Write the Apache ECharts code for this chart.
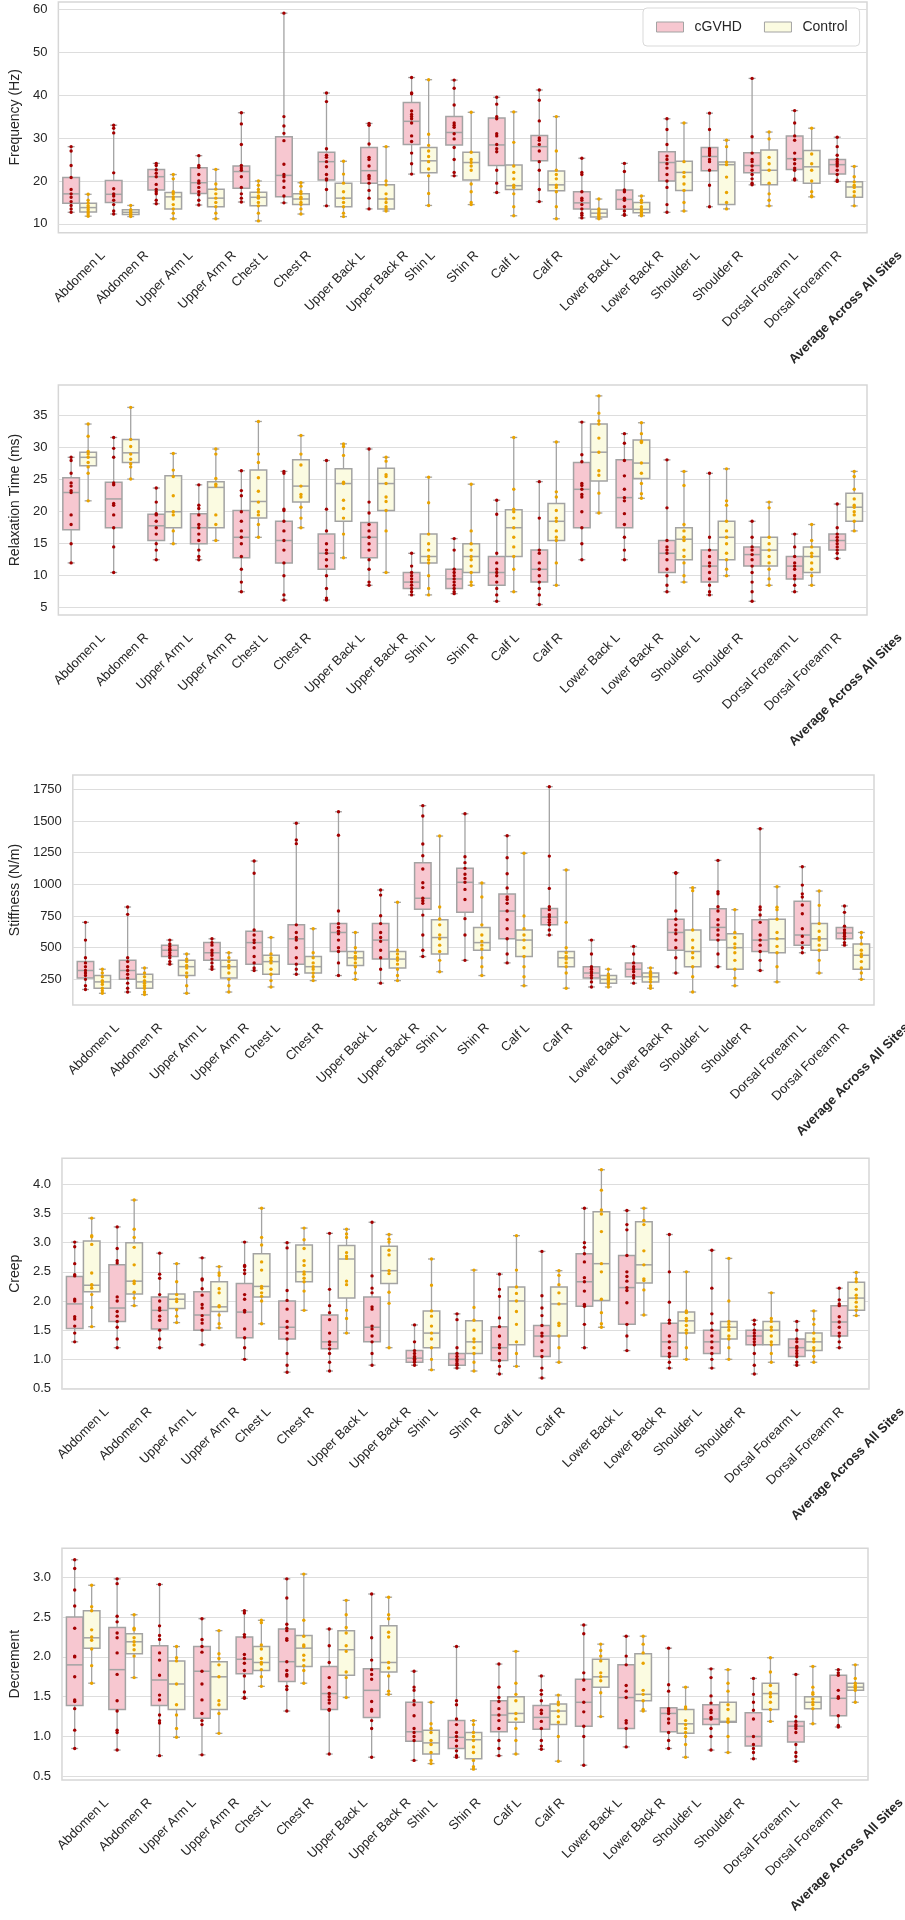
<!DOCTYPE html>
<html><head><meta charset="utf-8">
<script src="https://cdn.jsdelivr.net/npm/echarts@6/dist/echarts.min.js"></script>
<style>html,body{margin:0;padding:0;background:#fff}#c{width:905px;height:1920px}</style>
</head><body><div id="c"></div><script>
const categories = ['Abdomen L','Abdomen R','Upper Arm L','Upper Arm R','Chest L','Chest R','Upper Back L','Upper Back R','Shin L','Shin R','Calf L','Calf R','Lower Back L','Lower Back R','Shoulder L','Shoulder R','Dorsal Forearm L','Dorsal Forearm R','Average Across All Sites'];
const groupNames = ['cGVHD','Control'];

const freqTicks = [10,20,30,40,50,60];
const relaxTicks = [5,10,15,20,25,30,35];
const stiffTicks = [250,500,750,1000,1250,1500,1750];
const creepTicks = [0.5,1.0,1.5,2.0,2.5,3.0,3.5,4.0];
const decTicks = [0.5,1.0,1.5,2.0,2.5,3.0];

// box statistics: [min, q1, median, q3, max]
const freqBoxCgvhd = [[12.7,14.8,17.0,20.8,28.0],[12.3,15.0,16.9,20.1,33.0],[14.7,17.9,21.0,22.7,24.1],[14.4,17.1,19.6,23.1,25.9],[15.1,18.3,22.2,23.5,35.9],[14.9,16.3,21.3,30.3,59.1],[14.2,20.2,24.5,26.7,40.5],[13.5,19.5,22.4,27.8,33.4],[21.6,28.5,33.9,38.3,44.1],[21.2,28.4,31.3,35.0,43.5],[17.3,23.6,28.4,34.7,39.5],[15.2,24.7,28.0,30.6,41.2],[11.4,13.5,14.9,17.5,25.3],[12.0,13.4,15.7,17.9,24.1],[12.7,20.0,24.3,26.8,34.5],[14.0,22.4,25.7,27.8,35.8],[19.1,21.9,23.6,26.6,43.9],[20.2,22.7,25.2,30.5,36.4],[19.9,21.6,23.8,25.0,30.2]];
const freqBoxControl = [[11.8,12.8,13.8,14.8,16.9],[11.7,12.2,12.7,13.3,14.3],[11.2,13.5,16.3,17.3,21.5],[11.2,14.0,16.0,18.1,22.7],[10.7,14.2,16.2,17.4,20.0],[12.3,14.5,15.8,17.0,19.6],[11.7,14.0,16.0,19.5,24.6],[13.0,13.5,15.8,19.1,28.0],[14.3,21.9,24.7,27.8,43.6],[14.5,20.2,24.3,26.7,36.0],[11.9,18.0,18.9,23.7,36.1],[11.2,17.7,19.1,22.3,35.0],[11.2,11.6,12.5,13.4,15.8],[11.9,12.6,13.4,15.0,16.5],[13.0,17.8,22.0,24.6,33.5],[13.5,14.5,23.8,24.4,29.5],[14.2,19.1,22.5,27.2,31.4],[16.3,19.5,23.3,27.1,32.3],[14.2,16.2,18.6,19.8,23.4]];
const freqPtsCgvhd = [[28.0,27.0,23.6,20.8,18.0,17.0,16.2,15.2,14.3,13.5,12.7],[33.0,32.3,31.2,21.9,18.2,17.0,16.5,15.5,14.5,13.0,12.3],[24.1,23.6,22.6,21.8,21.0,19.2,18.0,17.5,17.0,15.5,14.7],[25.9,23.6,23.2,21.5,20.0,19.5,18.5,17.5,16.8,15.5,14.4],[35.9,33.3,28.5,23.6,23.0,22.5,21.0,18.5,17.0,16.0,15.1],[59.1,35.0,32.8,31.1,29.4,23.9,21.5,21.0,20.0,18.5,16.5,14.9],[40.5,38.5,27.5,26.0,25.5,24.5,23.3,21.5,20.5,20.2,18.0,14.2],[33.4,33.0,28.6,25.5,25.0,23.5,21.3,21.0,20.5,19.5,17.8,16.0,13.5],[44.1,40.5,40.3,36.3,35.5,35.0,34.5,33.5,30.5,29.2,26.5,24.0,21.6],[43.5,41.6,37.7,33.5,33.0,32.5,31.0,29.8,27.8,25.0,22.0,21.2],[39.5,37.9,35.0,34.5,31.0,30.5,28.5,27.5,26.8,22.5,19.5,17.3],[41.2,38.8,34.0,30.0,29.5,28.5,27.0,24.5,22.5,18.0,15.2],[25.3,22.0,21.5,17.5,16.0,15.5,14.5,13.5,12.5,12.0,11.4],[24.1,22.2,17.9,17.5,16.0,15.5,14.0,13.0,12.2,12.0],[34.5,32.0,28.5,25.8,25.0,24.0,23.0,21.5,20.0,18.5,14.5,12.7],[35.8,32.0,27.5,27.0,26.5,26.0,25.0,24.5,22.5,19.0,14.0],[43.9,30.3,26.5,25.0,24.5,23.5,22.5,21.5,20.5,19.5,19.1],[36.4,33.5,30.5,29.5,26.5,25.0,24.0,23.0,22.5,20.5,20.2],[30.2,28.0,26.0,25.0,24.5,24.0,23.5,22.5,21.5,20.2,19.9]];
const freqPtsControl = [[16.9,15.5,14.8,14.2,13.8,13.3,12.8,12.3,11.8],[14.3,13.3,13.0,12.7,12.4,12.2,11.9,11.7],[21.5,20.5,17.5,17.0,16.3,15.8,14.5,13.5,12.5,11.2],[22.7,19.3,18.1,17.0,16.0,15.0,14.0,12.5,11.2],[20.0,19.0,18.0,17.4,16.5,16.0,15.0,14.2,12.5,10.7],[19.6,18.8,17.5,17.0,16.2,15.8,15.0,14.5,13.5,12.3],[24.6,21.6,19.5,17.5,16.0,15.0,14.0,12.5,11.7],[28.0,20.0,19.1,17.0,15.8,15.0,14.0,13.5,13.0],[43.6,30.9,28.3,27.0,25.7,24.5,22.8,21.2,17.1,14.3],[36.0,26.7,25.0,24.3,23.5,22.5,19.3,17.5,15.0,14.5],[36.1,29.0,23.5,22.0,20.5,19.0,18.5,17.0,14.0,11.9],[35.0,27.0,22.5,21.5,20.5,19.0,18.5,17.5,14.0,11.2],[15.8,13.5,13.0,12.5,12.2,11.9,11.6,11.2],[16.5,15.5,15.0,14.0,13.4,13.0,12.6,12.2,11.9],[33.5,24.5,22.0,21.0,19.3,17.8,15.0,13.0],[29.5,28.0,24.4,23.8,20.9,17.3,15.0,13.5],[31.4,29.8,25.5,24.0,22.5,19.5,17.0,15.5,14.2],[32.3,26.3,24.0,22.5,20.0,17.5,16.5,16.3],[23.4,21.0,19.8,19.0,18.5,17.5,16.5,14.2]];

const relaxBoxCgvhd = [[12.0,17.2,23.0,25.3,28.5],[10.5,17.5,22.0,24.6,31.6],[12.5,15.5,17.8,19.6,23.7],[12.5,15.0,17.5,19.7,24.2],[7.5,12.8,16.0,20.2,26.4],[6.2,12.0,15.5,18.5,26.3],[6.2,11.0,13.5,16.5,28.0],[8.5,12.8,16.0,18.3,29.8],[7.0,8.0,9.0,10.5,13.5],[7.2,8.0,9.5,11.0,15.8],[6.0,8.5,10.5,13.0,21.8],[5.5,9.0,11.0,14.0,24.7],[12.5,17.5,23.5,27.7,34.0],[12.5,17.5,22.2,28.1,32.2],[7.5,10.5,13.5,15.5,28.1],[7.0,9.0,11.5,14.0,26.0],[6.0,11.5,13.3,14.5,18.5],[7.5,9.5,11.5,13.0,16.5],[12.7,14.0,15.5,16.5,21.2]];
const relaxBoxControl = [[21.7,27.2,28.5,29.3,33.7],[25.1,27.7,29.2,31.3,36.3],[15.0,17.5,20.0,25.6,29.1],[15.5,17.5,23.8,24.7,29.8],[16.0,19.0,21.6,26.5,34.1],[17.5,21.5,24.0,28.1,31.9],[12.8,18.5,24.4,26.7,30.6],[10.5,20.2,24.4,26.8,28.5],[7.0,12.0,13.0,16.5,25.4],[8.5,10.5,13.0,15.0,24.3],[7.5,13.0,17.5,20.3,31.6],[8.5,15.5,18.5,21.3,30.9],[19.8,24.8,29.3,33.7,38.1],[22.1,25.2,27.6,31.2,33.9],[9.0,12.5,15.7,17.5,26.3],[10.0,12.5,16.0,18.5,26.7],[8.5,11.5,14.0,16.0,21.5],[8.5,10.5,13.0,14.5,18.0],[17.0,18.5,20.7,22.9,26.3]];
const relaxPtsCgvhd = [[28.5,28.0,26.0,24.5,24.0,23.3,23.0,19.5,18.0,15.0,12.0],[31.6,29.9,28.5,24.5,24.2,21.3,21.0,19.5,17.5,14.5,10.5],[23.7,21.5,19.7,19.5,18.5,17.5,16.5,15.0,14.0,12.5],[24.2,21.0,20.5,19.5,18.0,17.5,16.5,15.5,14.0,13.0,12.5],[26.4,23.3,22.5,20.0,18.5,17.0,16.0,15.0,13.0,11.0,9.0,7.5],[26.3,26.0,20.4,20.2,18.5,17.0,15.5,14.0,12.0,10.0,7.0,6.2],[28.0,20.4,17.0,15.0,14.0,13.5,12.5,11.5,10.0,8.0,6.5,6.2],[29.8,21.5,19.8,18.0,17.0,16.0,15.0,14.0,12.5,11.0,9.0,8.5],[13.5,11.5,10.5,10.0,9.5,9.0,8.5,8.0,7.5,7.0],[15.8,14.0,11.0,10.5,10.0,9.5,9.0,8.5,8.0,7.5,7.2],[21.8,19.6,13.5,12.0,11.0,10.5,10.0,9.0,8.0,7.0,6.0],[24.7,19.0,14.0,13.5,12.0,11.0,10.0,9.0,8.0,7.0,5.5],[34.0,28.9,27.8,24.4,24.1,23.5,22.7,22.3,20.0,17.5,15.0,12.5],[32.2,30.7,28.0,25.6,23.5,22.2,21.7,19.7,18.0,16.0,14.0,12.5],[28.1,20.6,15.5,14.5,14.0,13.5,12.5,11.0,10.0,8.5,7.5],[26.0,16.0,14.0,13.0,12.0,11.5,10.5,9.5,8.5,7.5,7.0],[18.5,16.0,14.5,14.0,13.3,12.5,11.5,10.5,9.0,7.5,6.0],[16.5,14.5,13.0,12.0,11.5,11.0,10.0,9.5,8.5,7.5],[21.2,17.5,16.5,16.0,15.5,15.0,14.5,14.0,13.5,12.7]];
const relaxPtsControl = [[33.7,31.8,29.4,29.0,28.5,27.7,27.0,26.0,21.7],[36.3,31.3,30.2,29.0,28.2,27.5,27.0,25.1],[29.1,26.5,25.5,22.5,20.0,19.5,17.0,15.0],[29.8,29.0,25.2,24.3,24.0,19.5,18.0,15.5],[34.1,29.0,27.7,25.3,23.2,21.5,20.0,19.5,18.0,16.0],[31.9,29.0,27.3,24.0,22.7,22.3,20.7,19.0,17.5],[30.6,30.2,28.8,24.6,24.4,21.8,20.5,19.0,16.5,12.8],[28.5,27.9,25.8,25.5,24.4,22.3,21.6,20.2,17.0,10.5],[25.4,21.4,16.5,15.0,14.0,13.0,12.5,12.0,10.0,8.0,7.0],[24.3,17.0,15.0,14.0,13.0,12.5,11.5,10.5,9.0,8.5],[31.6,23.5,20.4,20.0,19.0,17.5,16.0,14.5,13.0,11.0,7.5],[30.9,23.1,22.3,20.2,19.0,18.5,17.0,16.0,15.5,12.0,8.5],[38.1,35.4,34.2,33.7,31.5,29.3,26.4,25.7,22.9,19.8],[33.9,32.2,31.0,30.8,27.6,26.0,24.4,22.8,22.1],[26.3,24.1,18.0,17.0,16.0,15.5,14.0,13.0,12.0,10.0,9.0],[26.7,21.7,21.0,18.5,17.0,16.0,15.0,13.5,12.5,11.0,10.0],[21.5,20.6,16.0,15.0,14.0,13.0,12.0,11.0,9.5,8.5],[18.0,15.5,14.5,13.5,13.0,12.0,11.0,10.0,8.5],[26.3,25.5,23.5,22.0,21.0,20.7,20.0,19.5,18.5,17.0]];

const stiffBoxCgvhd = [[170,260,320,390,700],[150,250,320,400,821],[370,430,480,520,560],[330,400,460,540,570],[320,370,540,630,1184],[290,370,570,680,1482],[280,470,620,690,1573],[220,410,560,690,955],[430,803,890,1170,1621],[400,780,1016,1126,1557],[380,570,789,924,1384],[600,680,742,810,1771],[190,260,300,350,560],[220,270,330,380,510],[300,480,620,724,1092],[350,560,660,807,1189],[320,470,560,720,1439],[460,520,600,866,1139],[520,570,615,660,829]];
const stiffBoxControl = [[140,180,230,280,330],[130,180,230,290,340],[140,280,350,400,450],[150,260,350,400,460],[190,290,390,440,580],[240,300,350,430,650],[250,360,420,470,620],[240,340,410,470,858],[310,450,580,720,1381],[280,480,540,660,1010],[200,430,560,640,1245],[180,350,420,470,1113],[190,220,250,280,330],[180,230,270,300,340],[150,350,470,640,973],[200,330,500,610,800],[230,460,570,724,981],[300,480,570,690,947],[250,330,440,530,620]];
const stiffPtsCgvhd = [[700,560,420,380,350,320,300,280,250,200,170],[821,763,420,390,350,320,290,260,220,180,150],[560,530,510,490,480,460,440,420,390,370],[570,540,520,480,460,440,410,380,350,330],[1184,1087,640,600,560,540,500,430,380,340,320],[1482,1350,1321,680,620,580,560,500,420,370,330,290],[1573,1387,789,690,660,630,610,560,500,470,380,280],[955,915,752,690,620,580,550,480,420,330,220],[1621,1539,1318,1226,1121,1013,974,890,870,850,757,600,480,430],[1557,1218,1171,1126,1080,1047,1016,960,880,729,600,400],[1384,1210,1084,971,900,880,850,789,720,650,570,450,380],[1771,1223,968,823,800,760,745,720,700,680,640,600],[560,450,350,330,310,300,280,260,230,190],[510,450,380,350,330,310,280,260,220],[1092,1087,789,724,680,640,610,560,500,420,300],[1189,942,925,823,790,720,680,640,600,560,450,350],[1439,821,800,758,700,600,560,520,470,400,320],[1139,994,925,900,837,768,650,590,540,500,460],[829,779,670,640,620,610,590,570,540,520]];
const stiffPtsControl = [[330,300,270,240,230,210,180,160,140],[340,300,270,240,220,200,180,150,130],[450,410,390,360,340,300,270,200,140],[460,420,390,360,340,300,250,200,150],[580,450,420,400,380,330,290,240,190],[650,460,420,380,350,330,300,270,240],[620,500,460,430,410,380,350,300,250],[858,480,450,420,400,370,330,280,240],[1381,821,726,680,600,570,520,470,400,310],[1010,900,680,600,550,520,490,420,350,280],[1245,750,650,600,560,500,430,350,270,200],[1113,700,500,460,430,410,380,350,300,180],[330,290,270,260,250,240,230,210,190],[340,310,290,280,270,250,230,200,180],[973,950,640,560,500,460,420,350,270,150],[800,620,580,530,500,460,400,330,260,200],[981,820,800,724,620,570,510,460,350,230],[947,834,690,630,580,560,520,480,400,300],[620,580,530,480,450,430,390,340,300,250]];

const creepBoxCgvhd = [[1.30,1.53,1.95,2.42,3.01],[1.20,1.65,1.88,2.62,3.27],[1.20,1.52,1.84,2.07,2.82],[1.25,1.50,1.76,2.16,2.74],[1.00,1.37,1.81,2.30,3.01],[0.78,1.35,1.55,2.00,3.00],[0.80,1.18,1.30,1.76,3.16],[0.90,1.30,1.55,2.07,3.35],[0.90,0.95,1.02,1.15,1.59],[0.85,0.90,1.00,1.10,1.78],[0.75,0.98,1.20,1.56,2.46],[0.68,1.05,1.40,1.58,2.85],[1.20,1.91,2.33,2.81,3.59],[1.15,1.60,2.23,2.78,3.55],[0.85,1.05,1.30,1.62,3.14],[0.85,1.10,1.30,1.50,2.87],[0.75,1.25,1.40,1.50,1.67],[0.90,1.05,1.20,1.35,1.65],[1.20,1.40,1.64,1.92,2.22]];
const creepBoxControl = [[1.56,2.16,2.27,3.03,3.42],[1.92,2.12,2.34,3.00,3.73],[1.63,1.87,2.03,2.12,2.64],[1.54,1.82,1.90,2.33,2.59],[1.61,2.07,2.25,2.81,3.59],[1.84,2.33,2.50,2.96,3.25],[1.45,2.05,2.72,2.95,3.23],[1.20,2.30,2.52,2.94,3.14],[0.82,1.20,1.45,1.83,2.72],[0.80,1.10,1.30,1.66,2.53],[0.88,1.25,2.00,2.24,3.12],[0.95,1.40,1.95,2.24,2.52],[1.55,2.01,2.64,3.53,4.25],[1.76,2.31,2.62,3.36,3.59],[1.00,1.45,1.66,1.81,2.50],[1.00,1.35,1.55,1.65,2.73],[0.95,1.25,1.50,1.65,2.14],[0.95,1.15,1.30,1.45,1.83],[1.75,1.84,2.05,2.32,2.49]];
const creepPtsCgvhd = [[3.01,2.93,2.64,2.45,2.43,2.03,2.0,1.73,1.69,1.57,1.45,1.30],[3.27,2.90,2.69,2.65,2.07,2.0,1.82,1.74,1.65,1.55,1.35,1.20],[2.82,2.46,2.39,2.11,2.0,1.88,1.84,1.74,1.67,1.50,1.35,1.20],[2.74,2.38,2.36,2.21,2.10,1.94,1.88,1.75,1.68,1.62,1.50,1.25],[3.01,2.61,2.59,2.53,2.47,2.11,2.03,1.84,1.81,1.52,1.37,1.20,1.00],[3.00,2.91,2.18,2.01,1.86,1.65,1.55,1.45,1.35,1.10,0.90,0.78],[3.16,2.20,1.92,1.80,1.68,1.45,1.30,1.25,1.18,1.10,0.95,0.80],[3.35,2.43,2.22,2.14,1.90,1.86,1.57,1.52,1.40,1.30,1.10,0.90],[1.59,1.30,1.15,1.10,1.05,1.02,1.00,0.97,0.95,0.90],[1.78,1.68,1.20,1.10,1.05,1.00,0.97,0.93,0.90,0.85],[2.46,2.20,2.08,1.71,1.56,1.40,1.25,1.20,1.10,0.98,0.88,0.75],[2.85,2.09,1.88,1.75,1.58,1.45,1.40,1.30,1.15,1.05,0.85,0.68],[3.59,3.00,2.92,2.81,2.67,2.40,2.33,2.17,1.94,1.91,1.60,1.20],[3.55,3.31,3.22,2.78,2.50,2.42,2.34,2.23,2.18,1.97,1.60,1.40,1.15],[3.14,2.50,1.98,1.67,1.62,1.40,1.30,1.20,1.10,1.05,0.95,0.85],[2.87,2.22,1.78,1.62,1.50,1.40,1.30,1.20,1.10,1.00,0.85],[1.67,1.60,1.50,1.45,1.40,1.35,1.30,1.25,1.10,0.90,0.75],[1.65,1.50,1.35,1.30,1.22,1.20,1.15,1.10,1.05,0.95,0.90],[2.22,2.02,1.95,1.92,1.73,1.64,1.55,1.45,1.40,1.30,1.20]];
const creepPtsControl = [[3.42,3.12,3.10,2.97,2.48,2.28,2.27,2.22,2.11,1.89,1.56],[3.73,3.23,3.09,2.92,2.62,2.34,2.30,2.15,2.05,1.92],[2.64,2.33,2.11,2.03,1.99,1.85,1.74,1.63],[2.59,2.48,2.44,2.21,2.14,1.92,1.90,1.76,1.61,1.54],[3.59,3.09,2.96,2.67,2.53,2.25,2.22,2.14,2.08,2.00,1.61],[3.25,3.05,2.90,2.69,2.61,2.50,2.46,2.39,2.33,2.17,1.84],[3.23,3.15,3.09,2.83,2.77,2.73,2.34,2.28,1.84,1.70,1.45],[3.14,3.06,3.01,2.87,2.79,2.52,2.47,2.15,1.96,1.20],[2.72,2.27,1.83,1.74,1.57,1.45,1.35,1.20,1.00,0.82],[2.53,1.89,1.67,1.50,1.35,1.30,1.20,1.10,0.95,0.80],[3.12,2.53,2.24,2.13,2.00,1.82,1.60,1.30,1.10,0.88],[2.52,2.44,2.28,2.14,1.95,1.62,1.58,1.40,1.20,0.95],[4.25,3.90,3.56,3.49,3.19,2.64,2.50,2.03,1.80,1.61,1.55],[3.59,3.38,3.31,2.86,2.62,2.38,2.35,2.19,1.76],[2.50,1.83,1.80,1.70,1.66,1.58,1.50,1.45,1.20,1.00],[2.73,2.00,1.65,1.60,1.55,1.50,1.40,1.35,1.20,1.00],[2.14,1.70,1.65,1.55,1.50,1.40,1.30,1.25,1.10,0.95],[1.83,1.69,1.60,1.45,1.35,1.30,1.20,1.15,1.05,0.95],[2.49,2.38,2.33,2.20,2.10,2.05,1.98,1.90,1.84,1.75]];

const decBoxCgvhd = [[0.85,1.39,1.90,2.50,3.22],[0.83,1.34,1.84,2.37,2.98],[0.76,1.39,1.71,2.14,2.91],[0.77,1.23,1.82,2.13,2.48],[1.48,1.79,1.97,2.25,2.58],[1.32,1.69,1.94,2.35,2.98],[0.78,1.34,1.54,1.88,2.35],[0.74,1.24,1.58,1.85,2.79],[0.70,0.94,1.06,1.43,1.82],[0.74,0.85,0.99,1.20,2.13],[0.76,1.06,1.27,1.45,1.91],[0.84,1.09,1.24,1.39,1.76],[0.64,1.13,1.43,1.72,2.40],[0.87,1.10,1.49,1.90,2.26],[0.85,1.06,1.29,1.36,2.11],[0.83,1.15,1.22,1.40,1.85],[0.72,0.88,1.00,1.30,1.73],[0.69,0.93,1.13,1.19,1.78],[1.12,1.26,1.48,1.77,1.84]];
const decBoxControl = [[1.67,2.11,2.24,2.58,2.90],[1.74,2.04,2.19,2.29,2.53],[0.99,1.34,1.66,1.95,2.13],[1.04,1.34,1.75,1.94,2.33],[1.63,1.83,1.93,2.13,2.46],[1.67,1.88,2.11,2.27,3.04],[1.49,1.77,2.09,2.33,2.71],[1.53,1.81,1.93,2.39,2.75],[0.66,0.78,0.92,1.08,1.43],[0.59,0.72,0.96,1.05,1.20],[0.78,1.18,1.29,1.50,2.07],[0.69,1.15,1.32,1.41,1.52],[1.25,1.62,1.75,1.97,2.16],[1.32,1.45,1.53,2.04,2.26],[0.74,1.04,1.16,1.34,1.62],[0.80,1.18,1.19,1.43,1.84],[1.19,1.34,1.54,1.67,1.99],[1.16,1.35,1.43,1.50,1.88],[1.43,1.58,1.62,1.67,1.90]];
const decPtsCgvhd = [[3.22,3.11,2.84,2.64,2.36,2.01,2.00,1.75,1.46,1.44,1.35,1.08,0.85],[2.98,2.92,2.51,2.44,2.30,2.24,2.05,1.78,1.45,1.32,1.08,1.05,0.83],[2.91,2.39,2.27,2.22,2.05,1.96,1.77,1.52,1.46,1.27,1.20,1.17,0.76],[2.48,2.22,2.13,2.06,1.82,1.66,1.46,1.29,1.20,1.15,0.77],[2.58,2.55,2.28,2.25,2.03,1.98,1.92,1.83,1.76,1.56,1.49,1.48],[2.98,2.74,2.41,2.36,2.33,2.23,2.21,1.94,1.83,1.78,1.76,1.63,1.59,1.32],[2.35,2.14,1.93,1.74,1.62,1.54,1.50,1.46,1.42,1.34,1.33,0.78],[2.79,2.24,1.96,1.84,1.78,1.72,1.44,1.34,1.32,1.20,1.10,0.74],[1.82,1.62,1.58,1.45,1.40,1.26,1.10,1.05,1.00,0.95,0.70],[2.13,1.45,1.40,1.22,1.15,1.05,1.00,0.95,0.88,0.82,0.76,0.74],[1.91,1.62,1.49,1.44,1.35,1.27,1.20,1.10,0.95,0.85,0.76],[1.76,1.58,1.53,1.45,1.33,1.29,1.19,1.10,0.95,0.88,0.84],[2.40,2.29,1.80,1.71,1.59,1.43,1.31,1.13,1.00,0.64],[2.26,2.01,1.90,1.64,1.57,1.49,1.20,1.17,1.10,0.87],[2.11,1.65,1.57,1.35,1.32,1.29,1.22,1.17,1.05,0.95,0.85],[1.85,1.74,1.51,1.42,1.33,1.30,1.24,1.22,1.10,1.00,0.83],[1.73,1.53,1.43,1.33,1.22,1.00,0.90,0.85,0.80,0.72],[1.78,1.25,1.19,1.15,1.13,1.10,1.05,0.90,0.80,0.75,0.69],[1.84,1.80,1.77,1.58,1.50,1.48,1.26,1.14,1.12]];
const decPtsControl = [[2.90,2.63,2.58,2.34,2.25,2.21,2.10,1.89,1.67],[2.53,2.36,2.34,2.24,2.19,2.15,2.09,2.01,1.74],[2.13,1.99,1.95,1.66,1.40,1.27,1.10,0.99],[2.33,2.04,1.98,1.90,1.75,1.45,1.40,1.29,1.04],[2.46,2.43,2.15,2.10,1.98,1.93,1.91,1.84,1.75,1.63],[3.04,2.46,2.26,2.15,2.13,2.02,1.96,1.89,1.83,1.67],[2.71,2.53,2.37,2.30,2.14,2.07,1.81,1.74,1.49],[2.75,2.53,2.48,2.31,2.25,1.93,1.86,1.76,1.57,1.53],[1.43,1.16,1.10,1.05,0.95,0.90,0.80,0.70,0.66],[1.20,1.15,1.05,1.00,0.95,0.87,0.80,0.70,0.62,0.59],[2.07,1.67,1.53,1.45,1.29,1.22,1.10,0.95,0.78],[1.52,1.43,1.40,1.32,1.25,1.18,1.00,0.69],[2.16,2.08,2.01,1.95,1.80,1.75,1.70,1.55,1.25],[2.26,2.16,2.05,1.92,1.58,1.53,1.45,1.34,1.32],[1.62,1.37,1.35,1.20,1.15,1.10,1.05,1.00,0.90,0.74],[1.84,1.67,1.57,1.40,1.34,1.22,1.19,1.18,1.00,0.80],[1.99,1.81,1.64,1.55,1.54,1.50,1.43,1.34,1.19],[1.88,1.62,1.55,1.53,1.47,1.43,1.40,1.35,1.16],[1.90,1.73,1.67,1.64,1.62,1.61,1.58,1.43]];

const FONT = '"Liberation Sans", Arial, sans-serif';
const TXT = '#262626';
const EDGE = '#a3a3a3';
const FILL = ['#f7c7d0', '#fbfbe1'];
const DOT = ['#a30000', '#e9a300'];

const panels = [
  {name:'Frequency (Hz)', left:52, top:2, width:815, height:230.7, min:7.95, max:61.7, ticks:freqTicks, dec:0, gap:31, box:[freqBoxCgvhd, freqBoxControl], pts:[freqPtsCgvhd, freqPtsControl]},
  {name:'Relaxation Time (ms)', left:52, top:385, width:815, height:230, min:3.86, max:39.8, ticks:relaxTicks, dec:0, gap:32, box:[relaxBoxCgvhd, relaxBoxControl], pts:[relaxPtsCgvhd, relaxPtsControl]},
  {name:'Stiffness (N/m)', left:60, top:775, width:814, height:230, min:47.6, max:1862.9, ticks:stiffTicks, dec:0, gap:46, box:[stiffBoxCgvhd, stiffBoxControl], pts:[stiffPtsCgvhd, stiffPtsControl]},
  {name:'Creep', left:54, top:1158.3, width:815, height:230.8, min:0.49, max:4.446, ticks:creepTicks, dec:1, gap:37, box:[creepBoxCgvhd, creepBoxControl], pts:[creepPtsCgvhd, creepPtsControl]},
  {name:'Decrement', left:54, top:1548.3, width:814, height:231.7, min:0.454, max:3.364, ticks:decTicks, dec:1, gap:37, box:[decBoxCgvhd, decBoxControl], pts:[decPtsCgvhd, decPtsControl]}
];

function boxRender(side, fill) {
  return function (params, api) {
    const x = api.value(0);
    const band = api.size([1, 0])[0];
    const w = 0.39 * band;
    const cap = w * 0.42;
    const pMin = api.coord([x, api.value(1)]);
    const pQ1 = api.coord([x, api.value(2)]);
    const pMed = api.coord([x, api.value(3)]);
    const pQ3 = api.coord([x, api.value(4)]);
    const pMax = api.coord([x, api.value(5)]);
    const cx = pMin[0] + side * 0.2 * band;
    const ls = {stroke: EDGE, lineWidth: 1.3, fill: null};
    return {type: 'group', children: [
      {type: 'line', shape: {x1: cx, y1: pMax[1], x2: cx, y2: pQ3[1]}, style: ls},
      {type: 'line', shape: {x1: cx, y1: pQ1[1], x2: cx, y2: pMin[1]}, style: ls},
      {type: 'line', shape: {x1: cx - cap / 2, y1: pMax[1], x2: cx + cap / 2, y2: pMax[1]}, style: ls},
      {type: 'line', shape: {x1: cx - cap / 2, y1: pMin[1], x2: cx + cap / 2, y2: pMin[1]}, style: ls},
      {type: 'rect', shape: {x: cx - w / 2, y: pQ3[1], width: w, height: pQ1[1] - pQ3[1]}, style: {fill: fill, stroke: EDGE, lineWidth: 1.5}},
      {type: 'line', shape: {x1: cx - w / 2, y1: pMed[1], x2: cx + w / 2, y2: pMed[1]}, style: {stroke: EDGE, lineWidth: 1.5}}
    ]};
  };
}
function pointRender(side, color) {
  return function (params, api) {
    const p = api.coord([api.value(0), api.value(1)]);
    const band = api.size([1, 0])[0];
    return {type: 'circle', shape: {cx: p[0] + side * 0.2 * band, cy: p[1], r: 1.7}, style: {fill: color}};
  };
}

const grids = [], xAxes = [], yAxes = [], series = [];
panels.forEach((pn, i) => {
  grids.push({left: pn.left, top: pn.top, width: pn.width, height: pn.height, show: true, borderColor: '#d6d6d6', borderWidth: 1.5, backgroundColor: 'transparent'});
  xAxes.push({type: 'category', gridIndex: i, data: categories, axisLine: {show: false}, axisTick: {show: false}, splitLine: {show: false}, axisLabel: {show: false}});
  yAxes.push({type: 'value', gridIndex: i, min: pn.min, max: pn.max, name: pn.name, nameLocation: 'middle', nameGap: pn.gap,
    nameTextStyle: {fontSize: 14, color: TXT, fontFamily: FONT},
    axisLine: {show: false}, axisTick: {show: false, customValues: pn.ticks},
    axisLabel: {customValues: pn.ticks, fontSize: 13, color: TXT, fontFamily: FONT, margin: 11, formatter: v => Number(v).toFixed(pn.dec)},
    splitLine: {show: true, lineStyle: {color: '#dddddd', width: 1.2}}});
  [0, 1].forEach(g => {
    series.push({name: groupNames[g], type: 'custom', xAxisIndex: i, yAxisIndex: i, renderItem: boxRender(g === 0 ? -1 : 1, FILL[g]),
      itemStyle: {color: FILL[g]}, encode: {x: 0, y: [1, 2, 3, 4, 5]},
      data: pn.box[g].map((b, k) => [k].concat(b)), z: 2});
  });
  [0, 1].forEach(g => {
    const data = [];
    pn.pts[g].forEach((arr, k) => arr.forEach(v => data.push([k, v])));
    series.push({name: groupNames[g] + ' points', type: 'custom', xAxisIndex: i, yAxisIndex: i, renderItem: pointRender(g === 0 ? -1 : 1, DOT[g]),
      itemStyle: {color: DOT[g]}, encode: {x: 0, y: 1}, data: data, z: 3});
  });
});

const chart = echarts.init(document.getElementById('c'), null, {renderer: 'canvas'});
chart.setOption({
  animation: false,
  backgroundColor: '#ffffff',
  textStyle: {fontFamily: FONT},
  grid: grids, xAxis: xAxes, yAxis: yAxes, series: series,
  legend: {
    data: [
      {name: 'cGVHD', itemStyle: {color: FILL[0], borderColor: EDGE, borderWidth: 1}},
      {name: 'Control', itemStyle: {color: FILL[1], borderColor: EDGE, borderWidth: 1}}
    ],
    left: 643, top: 8, icon: 'rect', itemWidth: 27, itemHeight: 10, itemGap: 22,
    padding: [12, 12, 12, 13], borderColor: '#d9d9d9', borderWidth: 1, borderRadius: 4, backgroundColor: '#ffffff',
    textStyle: {fontSize: 14, color: TXT, fontFamily: FONT, padding: [0, 0, 0, 6]}, selectedMode: false, z: 10
  }
});

// category tick labels: rotated 45 degrees, centred horizontally on each tick, tops aligned under the frame
const mctx = document.createElement('canvas').getContext('2d');
const labelEls = [];
panels.forEach((pn, i) => {
  categories.forEach((c, k) => {
    const bold = k === categories.length - 1;
    const font = (bold ? 'bold ' : '') + '13px "Liberation Sans", Arial, sans-serif';
    mctx.font = font;
    const L = mctx.measureText(c).width;
    const half = (L + 13) * Math.SQRT1_2 / 2;
    const p = chart.convertToPixel({gridIndex: i}, [k, pn.min]);
    labelEls.push({type: 'text', x: p[0], y: p[1] + 16 + half, rotation: Math.PI / 4, silent: true,
      style: {text: c, font: font, fill: TXT, align: 'center', verticalAlign: 'middle'}});
  });
});
chart.setOption({graphic: {elements: labelEls}});
</script></body></html>
